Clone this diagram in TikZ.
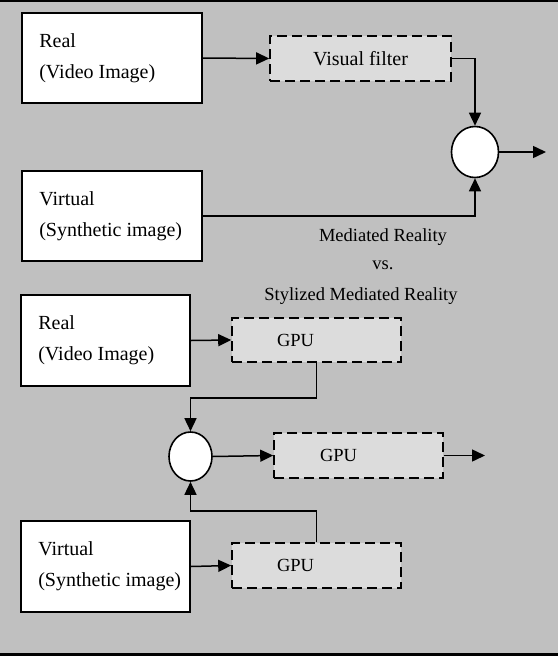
\documentclass[tikz,border=0pt]{standalone}
\usepackage{fontspec}
\setmainfont{Liberation Serif}
\usetikzlibrary{arrows.meta,shapes.geometric}
\definecolor{bg}{HTML}{C0C0C0}
\definecolor{boxgray}{HTML}{DCDCDC}
\begin{document}
\begin{tikzpicture}[x=1pt,y=-1pt,
  every node/.style={font=\fontsize{18.5}{31}\selectfont},
  srcbox/.style={draw, fill=white, line width=1.8pt, minimum height=90pt, inner sep=0pt},
  srctext/.style={anchor=west, xshift=18pt, align=left, inner sep=0pt, font=\fontsize{20}{31}\selectfont},
  procbox/.style={draw, fill=boxgray, line width=1.6pt, dash pattern=on 10pt off 5pt, minimum height=45pt, align=left},
  mixer/.style={draw, fill=white, ellipse, line width=1.6pt, inner sep=0pt},
  conn/.style={line width=1.5pt, -{Triangle[length=13pt,width=12pt]}},
  title/.style={anchor=base, inner sep=0pt}
]
\useasboundingbox (0,0) rectangle (558,656);
\fill[bg] (0,0) rectangle (558,656);
\fill[black] (0,0) rectangle (558,2);
\fill[black] (0,653) rectangle (558,656);

% top diagram
\node[srcbox, minimum width=180pt] (real1) at (112,58) {};
\node[srctext] (real1t) at (real1.west) {Real\\(Video Image)};
\node[srcbox, minimum width=180pt] (virt1) at (112,216) {};
\node[srctext] (virt1t) at (virt1.west) {Virtual\\(Synthetic image)};
\node[procbox, minimum width=181pt, align=center, font=\fontsize{20}{24}\selectfont] (vf) at (360.5,58.5) {Visual filter};
\node[mixer, minimum width=47pt, minimum height=51pt] (c1) at (475,152) {};
\coordinate (out1) at (546,152);

\draw[conn] (real1.east) -- (vf.west);
\draw[conn] (vf.east) -| (c1.north);
\draw[conn] (virt1.east) -| (c1.south);
\draw[conn] (c1.east) -- (out1);

% titles
\node[title] (t1) at (383,241) {Mediated Reality};
\node[title] (t2) at (383,269) {vs.};
\node[title] (t3) at (361,300) {Stylized Mediated Reality};

% bottom diagram
\node[srcbox, minimum width=169pt, minimum height=91pt] (real2) at (105.5,340.5) {};
\node[srctext] (real2t) at (real2.west) {Real\\(Video Image)};
\node[srcbox, minimum width=169pt, minimum height=91pt] (virt2) at (105.5,566.5) {};
\node[srctext] (virt2t) at (virt2.west) {Virtual\\(Synthetic image)};
\node[procbox, minimum width=169pt, minimum height=44pt, inner xsep=45pt, text width=79pt] (gpu1) at (316.5,340) {GPU};
\node[procbox, minimum width=169pt, inner xsep=46pt, text width=77pt] (gpu2) at (358.5,455.5) {GPU};
\node[procbox, minimum width=169pt, inner xsep=45pt, text width=79pt] (gpu3) at (316.5,565.5) {GPU};
\node[mixer, minimum width=43pt, minimum height=49pt] (c2) at (190.5,456.5) {};
\coordinate (out2) at (485,455.5);

\draw[conn] (real2.east) -- (gpu1.west);
\draw[conn] (gpu1.south) -- ++(0,35) -| (c2.north);
\draw[conn] (c2.east) -- (gpu2.west);
\draw[conn] (gpu2.east) -- (out2);
\draw[conn] (virt2.east) -- (gpu3.west);
\draw[conn] (gpu3.north) -- ++(0,-31) -| (c2.south);
\end{tikzpicture}
\end{document}
